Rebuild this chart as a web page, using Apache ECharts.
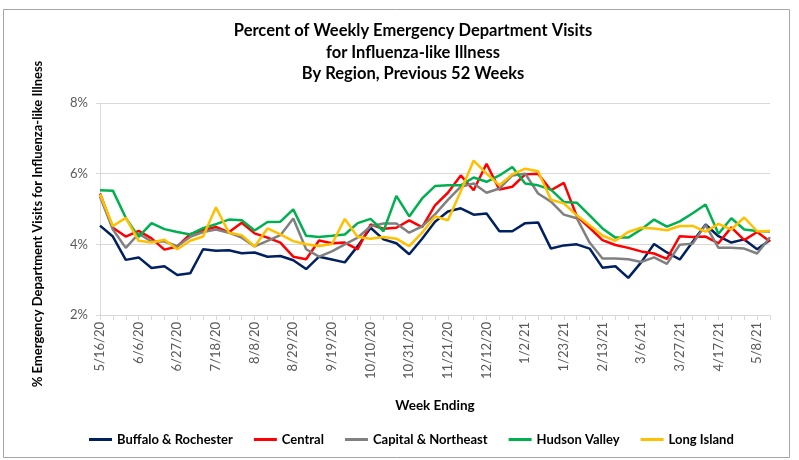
<!DOCTYPE html>
<html>
<head>
<meta charset="utf-8">
<script src="https://cdn.jsdelivr.net/npm/echarts@6/dist/echarts.min.js"></script>
<style>
  html, body { margin: 0; padding: 0; background: #fff; }
  #chart { width: 799px; height: 460px; }
</style>
</head>
<body>
<div id="chart"></div>
<script>
// weeks ending, 5/16/20 .. 5/15/21
var weeks = ['5/16/20','5/23/20','5/30/20','6/6/20','6/13/20','6/20/20','6/27/20','7/4/20','7/11/20',
  '7/18/20','7/25/20','8/1/20','8/8/20','8/15/20','8/22/20','8/29/20','9/5/20','9/12/20','9/19/20',
  '9/26/20','10/3/20','10/10/20','10/17/20','10/24/20','10/31/20','11/7/20','11/14/20','11/21/20',
  '11/28/20','12/5/20','12/12/20','12/19/20','12/26/20','1/2/21','1/9/21','1/16/21','1/23/21',
  '1/30/21','2/6/21','2/13/21','2/20/21','2/27/21','3/6/21','3/13/21','3/20/21','3/27/21','4/3/21',
  '4/10/21','4/17/21','4/24/21','5/1/21','5/8/21','5/15/21'];

var buffalo = [4.53,4.22,3.56,3.63,3.33,3.38,3.13,3.18,3.86,3.82,3.83,3.75,3.77,3.65,3.67,3.55,3.30,3.65,
  3.57,3.49,3.95,4.47,4.14,4.03,3.72,4.16,4.64,4.93,5.02,4.84,4.87,4.37,4.37,4.60,4.62,3.88,3.97,4.00,
  3.88,3.34,3.38,3.05,3.49,4.01,3.77,3.57,4.07,4.56,4.23,4.05,4.14,3.86,4.12];
var central = [5.44,4.47,4.22,4.38,4.17,3.85,3.94,4.29,4.40,4.49,4.34,4.61,4.31,4.19,4.05,3.65,3.58,4.11,
  4.03,4.05,3.86,4.56,4.44,4.47,4.68,4.49,5.10,5.46,5.95,5.53,6.28,5.55,5.63,5.98,6.00,5.53,5.74,4.80,
  4.47,4.12,3.98,3.90,3.80,3.74,3.59,4.23,4.21,4.22,4.03,4.48,4.12,4.35,4.08];
var capital = [5.35,4.42,3.90,4.30,4.08,4.08,3.95,4.21,4.35,4.42,4.33,4.19,3.94,4.10,4.26,4.73,3.86,3.65,
  3.80,4.00,4.19,4.51,4.59,4.59,4.33,4.51,4.85,5.26,5.63,5.72,5.46,5.58,5.95,6.00,5.44,5.21,4.84,4.74,
  4.05,3.60,3.60,3.58,3.50,3.63,3.45,3.99,4.02,4.55,3.90,3.90,3.88,3.74,4.20];
var hudson = [5.53,5.52,4.75,4.21,4.60,4.43,4.35,4.28,4.46,4.57,4.70,4.68,4.39,4.63,4.64,4.99,4.24,4.21,
  4.24,4.28,4.60,4.72,4.37,5.37,4.79,5.30,5.65,5.67,5.67,5.89,5.77,5.95,6.19,5.72,5.67,5.55,5.20,5.18,
  4.82,4.45,4.19,4.19,4.42,4.70,4.50,4.65,4.88,5.13,4.30,4.74,4.42,4.38,4.36];
var longIsland = [5.42,4.52,4.75,4.10,4.05,4.13,3.86,4.10,4.22,5.05,4.33,4.26,3.94,4.45,4.28,4.09,4.00,3.95,
  4.01,4.72,4.21,4.16,4.21,4.16,3.95,4.33,4.79,4.68,5.50,6.37,6.00,5.67,5.98,6.14,6.07,5.26,5.16,4.82,
  4.54,4.25,4.10,4.35,4.47,4.45,4.40,4.52,4.52,4.36,4.58,4.42,4.76,4.37,4.38];

var seriesNames = ['Buffalo & Rochester', 'Central', 'Capital & Northeast', 'Hudson Valley', 'Long Island'];
var seriesColors = ['#002060', '#ff0000', '#808080', '#00b050', '#ffc000'];
var seriesData = [buffalo, central, capital, hudson, longIsland];

var font = 'Lato, "Open Sans", sans-serif';
var myChart = echarts.init(document.getElementById('chart'));

var series = seriesNames.map(function (name, i) {
    return {
        name: name,
        type: 'line',
        data: seriesData[i],
        symbol: 'none',
        lineStyle: { width: 2.5, color: seriesColors[i] },
        itemStyle: { color: seriesColors[i] },
        animation: false
    };
});

var option = {
    backgroundColor: '#fff',
    title: {
        text: 'Percent of Weekly Emergency Department Visits\nfor Influenza-like Illness\nBy Region, Previous 52 Weeks',
        left: 408,
        textAlign: 'center',
        top: 15,
        textStyle: {
            fontFamily: font,
            fontSize: 16.5,
            fontWeight: 'bold',
            color: '#000',
            lineHeight: 21.5
        }
    },
    legend: {
        data: seriesNames,
        left: 84,
        top: 428,
        icon: 'rect',
        itemWidth: 23,
        itemHeight: 3,
        itemGap: 21,
        textStyle: {
            fontFamily: font,
            fontSize: 13,
            fontWeight: 'bold',
            color: '#000'
        }
    },
    grid: { left: 100, right: 29, top: 103, bottom: 145 },
    xAxis: {
        type: 'category',
        data: weeks,
        boundaryGap: false,
        name: 'Week Ending',
        nameLocation: 'middle',
        nameGap: 84,
        nameTextStyle: { fontFamily: font, fontSize: 13.5, fontWeight: 'bold', color: '#000' },
        axisLine: { lineStyle: { color: '#d9d9d9' } },
        axisTick: { show: true, interval: 0, length: 5, lineStyle: { color: '#d9d9d9' } },
        axisLabel: {
            interval: 2,
            rotate: 90,
            margin: 7,
            fontFamily: font,
            fontSize: 13,
            color: '#595959'
        },
        splitLine: { show: false }
    },
    yAxis: {
        type: 'value',
        min: 2,
        max: 8,
        interval: 2,
        axisLine: { show: true, lineStyle: { color: '#d9d9d9' } },
        axisTick: { show: true, length: 4, lineStyle: { color: '#d9d9d9' } },
        axisLabel: {
            formatter: '{value}%',
            margin: 12,
            fontFamily: font,
            fontSize: 13,
            color: '#595959'
        },
        splitLine: { lineStyle: { color: '#d9d9d9' } }
    },
    graphic: [
        {
            type: 'rect',
            shape: { x: 3.5, y: 9.5, width: 786, height: 448 },
            style: { fill: 'none', stroke: '#a6a6a6', lineWidth: 1 },
            silent: true
        },
        {
            type: 'text',
            x: 38,
            y: 224,
            rotation: Math.PI / 2,
            style: {
                text: '% Emergency Department Visits for Influenza-like Illness',
                fontFamily: font,
                fontSize: 13,
                fontWeight: 'bold',
                fill: '#000',
                align: 'center',
                verticalAlign: 'middle'
            }
        }
    ],
    series: series
};

myChart.setOption(option);
</script>
</body>
</html>
